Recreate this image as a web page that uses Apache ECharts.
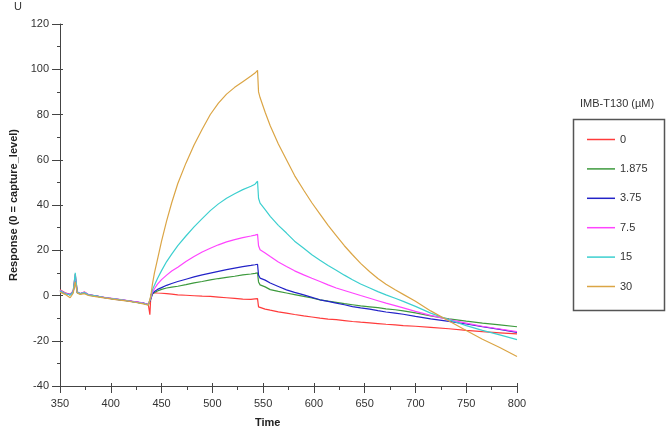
<!DOCTYPE html>
<html>
<head>
<meta charset="utf-8">
<script src="https://cdn.jsdelivr.net/npm/echarts@6/dist/echarts.min.js"></script>
<style>
html,body{margin:0;padding:0;background:#fff;}
#chart{width:666px;height:430px;}
</style>
</head>
<body>
<div id="chart"></div>
<script>
var times = [350,355,360,363,365,367,370,374,378,385,395,405,415,425,432,437,
  438.5,439.5,441,443,446,450,455,460,466,474,482,490,498,506,514,522,530,538,542,544.5,
  545.5,547,552,557,565,573,581,590,598,606,614,622,630,638,646,655,663,671,680,688,700,715,733,750,766,783,800];

var seriesNames = ['0','1.875','3.75','7.5','15','30'];
var seriesColors = ['#ff3b3b','#3d9a3d','#2323c8','#ff44ff','#3ccfcf','#dba545'];

var conc0 = [2.5,1.2,0.5,2.0,9.5,1.5,0.8,1.5,0.3,-0.2,-1.0,-1.6,-2.2,-2.9,-3.4,-4.0,
  -8.5,0.5,1.2,1.2,1.1,1.0,0.8,0.6,0.3,0.1,-0.1,-0.3,-0.4,-0.7,-1.0,-1.3,-1.6,-1.7,-1.5,-1.4,
  -5.0,-5.6,-6.0,-6.5,-7.2,-7.8,-8.4,-9.0,-9.5,-10.0,-10.4,-10.7,-11.1,-11.5,-11.8,-12.1,-12.4,-12.7,-13.0,-13.3,-13.6,-14.1,-14.7,-15.4,-16.0,-16.5,-17.0];
var conc1875 = [2.2,1.0,0.3,1.5,8.0,1.3,0.7,1.2,0.2,-0.3,-1.0,-1.6,-2.2,-2.9,-3.5,-4.0,
  -4.3,-1.5,0.6,1.3,2.0,2.7,3.3,3.7,4.1,4.8,5.6,6.2,6.9,7.5,8.0,8.5,9.1,9.5,9.8,10.0,
  6.0,4.7,3.8,2.6,1.8,1.1,0.4,-0.4,-1.1,-1.9,-2.5,-3.0,-3.6,-4.1,-4.6,-5.0,-5.4,-5.9,-6.3,-6.8,-7.7,-9.0,-10.3,-11.3,-12.2,-13.0,-13.8];
var conc375 = [2.0,1.0,0.4,1.6,7.0,1.4,0.8,1.3,0.3,-0.2,-1.1,-1.7,-2.3,-2.9,-3.4,-4.1,
  -4.3,-1.2,0.8,1.8,2.7,3.5,4.5,5.3,6.2,7.2,8.2,9.1,9.9,10.7,11.4,12.1,12.8,13.3,13.6,13.8,
  9.0,7.7,6.8,5.5,4.0,2.5,1.4,0.3,-0.8,-1.9,-2.6,-3.4,-4.1,-4.9,-5.5,-6.0,-6.7,-7.3,-7.8,-8.3,-9.2,-10.3,-11.4,-12.6,-13.8,-15.0,-16.3];
var conc75 = [2.3,1.1,0.4,1.8,9.0,1.6,0.9,1.5,0.4,-0.1,-0.9,-1.5,-2.1,-2.8,-3.3,-3.9,
  -4.3,-1.0,1.5,3.0,5.0,7.0,9.0,10.8,12.5,15.0,17.2,19.2,20.9,22.4,23.7,24.7,25.6,26.3,26.7,27.0,
  22.0,20.2,18.8,17.2,14.8,12.8,10.9,9.1,7.6,6.2,4.7,3.3,2.2,1.1,0.0,-1.2,-2.3,-3.4,-4.5,-5.5,-7.0,-8.8,-10.7,-12.2,-13.6,-14.8,-16.0];
var conc15 = [2.1,0.9,0.2,1.7,10.0,1.5,0.8,1.3,0.3,-0.2,-1.0,-1.6,-2.2,-3.0,-3.5,-4.1,
  -4.3,-0.5,2.5,4.5,7.5,11.0,15.0,18.3,22.0,26.3,30.3,34.0,37.5,40.5,43.0,45.0,46.8,48.3,49.2,50.5,
  43.0,40.8,38.0,35.0,31.0,27.6,24.0,20.9,18.0,15.6,13.3,11.2,9.0,7.0,5.1,3.3,1.7,0.3,-1.2,-2.6,-4.8,-7.8,-10.7,-13.3,-15.4,-17.4,-19.5];
var conc30 = [1.5,0.5,-1.0,1.0,6.0,1.0,0.5,0.8,0.0,-0.5,-1.2,-1.8,-2.4,-3.1,-3.7,-4.3,
  -4.5,0.0,5.0,10.0,16.0,24.0,33.0,41.0,49.5,58.5,66.5,73.5,80.0,85.0,89.0,92.0,94.5,97.0,98.3,99.5,
  90.0,87.5,81.0,75.0,67.0,60.0,53.0,46.5,41.0,36.0,31.0,26.5,22.0,18.0,14.2,10.5,7.5,5.0,2.5,0.5,-2.5,-6.8,-11.3,-15.5,-19.3,-23.0,-27.0];

var allValues = [conc0, conc1875, conc375, conc75, conc15, conc30];

var xTicks = {min: 350, max: 800, interval: 50};
var yTicks = {min: -40, max: 120, interval: 20};

var chart = echarts.init(document.getElementById('chart'), null, {renderer: 'canvas'});
var font = 'Liberation Sans, Arial, sans-serif';
var axisColor = '#444';

var series = allValues.map(function (vals, i) {
  return {
    name: seriesNames[i],
    type: 'line',
    xAxisIndex: 0,
    yAxisIndex: 0,
    symbol: 'none',
    smooth: false,
    lineStyle: {width: 1.2, color: seriesColors[i]},
    itemStyle: {color: seriesColors[i]},
    data: times.map(function (t, k) { return [t, vals[k]]; })
  };
});

chart.setOption({
  animation: false,
  backgroundColor: '#fff',
  grid: {left: 55, right: 149, top: 24, bottom: 44, containLabel: false},
  xAxis: [{
    type: 'value', min: xTicks.min, max: xTicks.max, interval: xTicks.interval,
    axisLine: {show: true, onZero: false, lineStyle: {color: axisColor, width: 1}},
    axisTick: {show: true, length: 7, lineStyle: {color: axisColor}},
    minorTick: {show: true, splitNumber: 2, length: 4, lineStyle: {color: axisColor}},
    axisLabel: {color: '#333', fontSize: 11, fontFamily: font, margin: 12},
    splitLine: {show: false}
  }, {
    type: 'value', min: xTicks.min, max: xTicks.max, interval: xTicks.interval, position: 'bottom',
    axisLine: {show: false, onZero: false},
    axisTick: {show: true, inside: true, length: 3, lineStyle: {color: axisColor}},
    axisLabel: {show: false},
    splitLine: {show: false}
  }],
  yAxis: [{
    type: 'value', min: yTicks.min, max: yTicks.max, interval: yTicks.interval,
    name: 'Response (0 = capture_level)', nameLocation: 'middle', nameGap: 41,
    nameTextStyle: {fontSize: 11, fontWeight: 'bold', color: '#222', fontFamily: font},
    axisLine: {show: true, onZero: false, lineStyle: {color: axisColor, width: 1}},
    axisTick: {show: true, length: 8, lineStyle: {color: axisColor}},
    minorTick: {show: true, splitNumber: 2, length: 3, lineStyle: {color: axisColor}},
    axisLabel: {color: '#333', fontSize: 11, fontFamily: font, margin: 11},
    splitLine: {show: false}
  }, {
    type: 'value', min: yTicks.min, max: yTicks.max, interval: yTicks.interval, position: 'left',
    axisLine: {show: false, onZero: false},
    axisTick: {show: true, inside: true, length: 3, lineStyle: {color: axisColor}},
    axisLabel: {show: false},
    splitLine: {show: false}
  }],
  legend: {
    orient: 'vertical', left: 587, top: 134, padding: 0,
    icon: 'rect', itemWidth: 28, itemHeight: 1.5, itemGap: 18.4,
    data: seriesNames,
    textStyle: {fontSize: 11, color: '#333', fontFamily: font}
  },
  graphic: [
    {type: 'rect', left: 571, top: 117, shape: {width: 91, height: 191},
      style: {fill: 'none', stroke: '#555', lineWidth: 1.5}, silent: true},
    {type: 'text', left: 580, top: 98,
      style: {text: 'IMB-T130 (\u00b5M)', fontSize: 11, fill: '#333', fontFamily: font}},
    {type: 'text', left: 255, top: 417,
      style: {text: 'Time', fontSize: 11, fontWeight: 'bold', fill: '#222', fontFamily: font}},
    {type: 'text', left: 14, top: 1,
      style: {text: 'U', fontSize: 11, fill: '#333', fontFamily: font}}
  ],
  series: series
});
</script>
</body>
</html>
